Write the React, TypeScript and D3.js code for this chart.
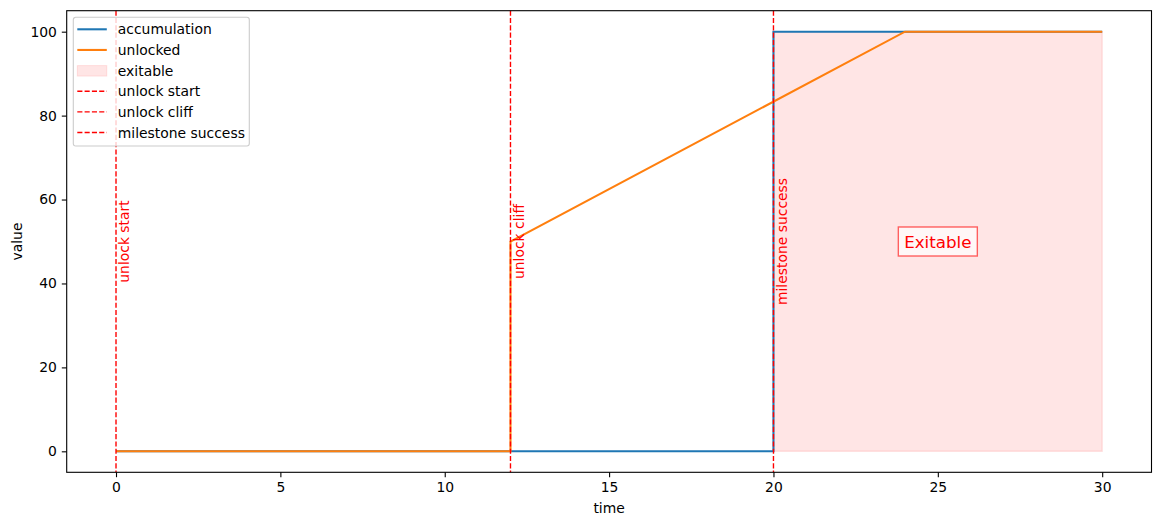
import React, { useEffect, useRef } from "react";
import * as d3 from "d3";

// series
const accTime = [0, 20, 20, 30];
const accValue = [0, 0, 100, 100];
const unlockTime = [0, 12, 12, 24, 30];
const unlockValue = [0, 0, 50, 100, 100];
const exitTime = [20, 30];
const exitValue = [100, 100];
const markerTime = [0, 12, 20];
const markerLabel = ["unlock start", "unlock cliff", "milestone success"];
const xTicks = [0, 5, 10, 15, 20, 25, 30];
const yTicks = [0, 20, 40, 60, 80, 100];
const legendLabels = ["accumulation", "unlocked", "exitable", "unlock start", "unlock cliff", "milestone success"];

const W = 1160;
const H = 525;
const FONT = "DejaVu Sans, sans-serif";

function draw(svgEl: SVGSVGElement) {
	const svg = d3.select(svgEl).attr("width", W).attr("height", H);
	svg.selectAll("*").remove();
	svg.append("rect").attr("width", W).attr("height", H).attr("fill", "white");

	const left = 66.7;
	const right = 1151.5;
	const top = 10.7;
	const bottom = 472.3;

	const x = d3.scaleLinear().domain([-1.5, 31.5]).range([left, right]);
	const y = d3.scaleLinear().domain([-5, 105]).range([bottom, top]);

	const plot = svg.append("g");

	// exitable area
	const area = d3
		.area<number>()
		.x((d) => x(exitTime[d]))
		.y0(y(0))
		.y1((d) => y(exitValue[d]));
	plot
		.append("path")
		.attr("d", area(exitTime.map((_, i) => i)))
		.attr("fill", "red")
		.attr("fill-opacity", 0.1)
		.attr("stroke", "red")
		.attr("stroke-opacity", 0.1)
		.attr("stroke-width", 1.4);

	const line = d3
		.line<[number, number]>()
		.x((d) => x(d[0]))
		.y((d) => y(d[1]));

	plot
		.append("path")
		.attr("d", line(accTime.map((t, i) => [t, accValue[i]])))
		.attr("fill", "none")
		.attr("stroke", "#1f77b4")
		.attr("stroke-width", 2.08);
	plot
		.append("path")
		.attr("d", line(unlockTime.map((t, i) => [t, unlockValue[i]])))
		.attr("fill", "none")
		.attr("stroke", "#ff7f0e")
		.attr("stroke-width", 2.08);

	// marker lines and their labels
	markerTime.forEach((t, i) => {
		plot
			.append("line")
			.attr("x1", x(t))
			.attr("x2", x(t))
			.attr("y1", top)
			.attr("y2", bottom)
			.attr("stroke", "red")
			.attr("stroke-width", 1.39)
			.attr("stroke-dasharray", "5.1,2.2");
		plot
			.append("text")
			.attr("transform", `translate(${x(t + 0.1) + 10},${y(50)}) rotate(-90)`)
			.attr("text-anchor", "middle")
			.attr("font-family", FONT)
			.attr("font-size", 13.9)
			.attr("fill", "red")
			.text(markerLabel[i]);
	});

	// Exitable box
	const bx = x(25);
	const by = y(50);
	plot
		.append("rect")
		.attr("x", bx - 39.5)
		.attr("y", by - 14.5)
		.attr("width", 79)
		.attr("height", 29)
		.attr("fill", "white")
		.attr("fill-opacity", 0.7)
		.attr("stroke", "red")
		.attr("stroke-opacity", 0.6)
		.attr("stroke-width", 1.4);
	plot
		.append("text")
		.attr("x", bx)
		.attr("y", by + 6)
		.attr("text-anchor", "middle")
		.attr("font-family", FONT)
		.attr("font-size", 16.7)
		.attr("fill", "red")
		.text("Exitable");

	// axes
	const xAxis = svg
		.append("g")
		.attr("transform", `translate(0,${bottom})`)
		.call(d3.axisBottom(x).tickValues(xTicks).tickSize(4.9).tickPadding(4.9).tickFormat(d3.format("d")));
	const yAxis = svg
		.append("g")
		.attr("transform", `translate(${left},0)`)
		.call(d3.axisLeft(y).tickValues(yTicks).tickSize(4.9).tickPadding(4.9).tickFormat(d3.format("d")));
	[xAxis, yAxis].forEach((a) => {
		a.select(".domain").remove();
		a.selectAll("line").attr("stroke", "black").attr("stroke-width", 1.1);
		a.selectAll("text").attr("font-family", FONT).attr("font-size", 13.9).attr("fill", "black");
	});

	svg
		.append("rect")
		.attr("x", left)
		.attr("y", top)
		.attr("width", right - left)
		.attr("height", bottom - top)
		.attr("fill", "none")
		.attr("stroke", "black")
		.attr("stroke-width", 1.1);

	svg
		.append("text")
		.attr("x", (left + right) / 2)
		.attr("y", 513)
		.attr("text-anchor", "middle")
		.attr("font-family", FONT)
		.attr("font-size", 13.9)
		.text("time");
	svg
		.append("text")
		.attr("transform", `translate(22,${(top + bottom) / 2}) rotate(-90)`)
		.attr("text-anchor", "middle")
		.attr("font-family", FONT)
		.attr("font-size", 13.9)
		.text("value");

	// legend
	const lg = svg.append("g").attr("transform", "translate(73.3,17.3)");
	lg.append("rect")
		.attr("width", 176)
		.attr("height", 128.7)
		.attr("rx", 2.5)
		.attr("fill", "white")
		.attr("fill-opacity", 0.8)
		.attr("stroke", "#cccccc")
		.attr("stroke-width", 1.1);
	legendLabels.forEach((label, i) => {
		const cy = 12 + i * 20.65;
		const row = lg.append("g").attr("transform", `translate(0,${cy})`);
		if (i === 2) {
			row.append("rect")
				.attr("x", 4)
				.attr("y", -5)
				.attr("width", 29.5)
				.attr("height", 10.5)
				.attr("fill", "red")
				.attr("fill-opacity", 0.1)
				.attr("stroke", "red")
				.attr("stroke-opacity", 0.1);
		} else {
			const dashed = i > 2;
			row.append("line")
				.attr("x1", 4)
				.attr("x2", 33.5)
				.attr("stroke", dashed ? "red" : i === 0 ? "#1f77b4" : "#ff7f0e")
				.attr("stroke-width", dashed ? 1.39 : 2.08)
				.attr("stroke-dasharray", dashed ? "5.1,2.2" : null);
		}
		row.append("text")
			.attr("x", 44.5)
			.attr("y", 5)
			.attr("font-family", FONT)
			.attr("font-size", 13.9)
			.attr("fill", "black")
			.text(label);
	});
}

export default function App() {
	const ref = useRef<SVGSVGElement>(null);
	useEffect(() => {
		if (!ref.current) return;
		draw(ref.current);
	}, []);
	return <svg ref={ref} style={{ position: "absolute", left: 0, top: 0 }} />;
}
